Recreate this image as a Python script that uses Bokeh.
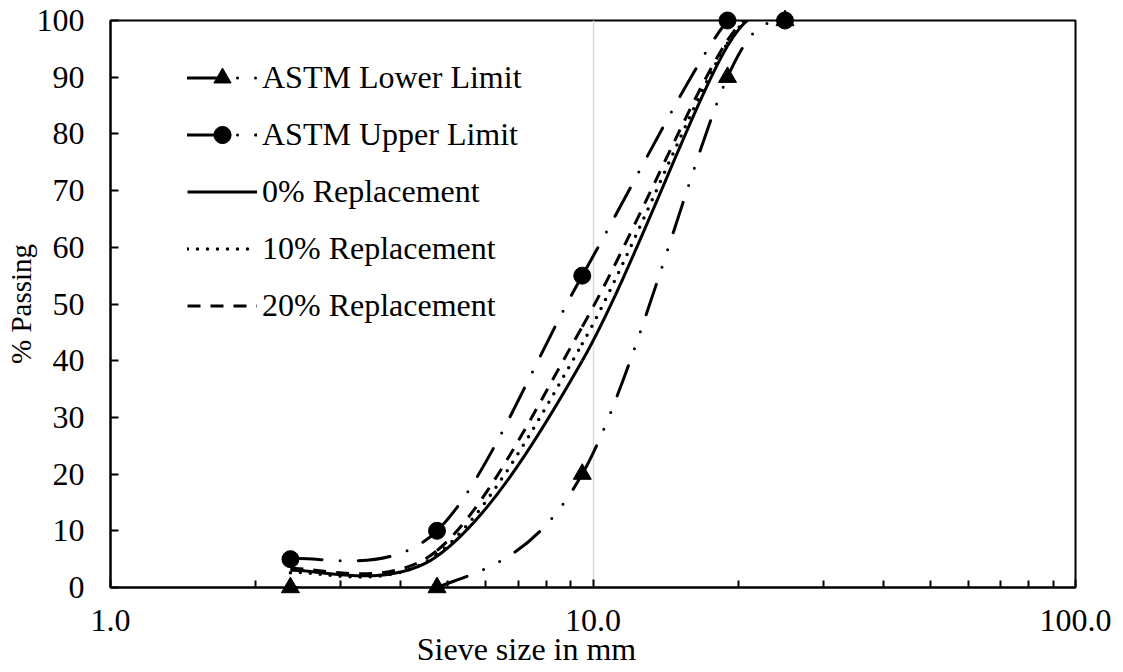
import numpy as np
from bokeh.plotting import figure
from bokeh.models import (Range1d, FixedTicker, PrintfTickFormatter, Legend,
                          LegendItem, ColumnDataSource)
from bokeh.core.properties import value
from bokeh.embed import file_html
from bokeh.resources import INLINE

# Sieve sizes (mm) and percent passing for each gradation
sieve_mm = [2.36, 4.75, 9.5, 19.0, 25.0]
astm_lower = [0, 0, 20, 90, 100]
astm_upper = [5, 10, 55, 100, 100]
replacement_0 = [3.0, 5.5, 40.0, 95.5, 100]
replacement_10 = [2.6, 5.8, 43.0, 96.0, 100]
replacement_20 = [3.3, 6.5, 46.0, 96.5, 100]

x_major_ticks = [1, 10, 100]
x_minor_ticks = [2, 3, 4, 5, 6, 7, 8, 9, 20, 30, 40, 50, 60, 70, 80, 90]
y_ticks = [0, 10, 20, 30, 40, 50, 60, 70, 80, 90, 100]

FONT = "Liberation Serif"
FONT_SIZE = "32px"


def smooth_source(xs, ys, t=1.0 / 6.0):
    """Cubic Bezier segments (Catmull-Rom style) through the points.

    Control points are built in log10(x) so the curve is smooth on the log axis.
    """
    lx = np.log10(np.asarray(xs, dtype=float))
    y = np.asarray(ys, dtype=float)
    px = np.concatenate([[lx[0]], lx, [lx[-1]]])
    py = np.concatenate([[y[0]], y, [y[-1]]])
    i = np.arange(len(lx) - 1)
    cx0 = px[i + 1] + (px[i + 2] - px[i]) * t
    cy0 = py[i + 1] + (py[i + 2] - py[i]) * t
    cx1 = px[i + 2] - (px[i + 3] - px[i + 1]) * t
    cy1 = py[i + 2] - (py[i + 3] - py[i + 1]) * t
    return ColumnDataSource(dict(
        x0=10 ** px[i + 1], y0=py[i + 1],
        x1=10 ** px[i + 2], y1=py[i + 2],
        cx0=10 ** cx0, cy0=cy0, cx1=10 ** cx1, cy1=cy1,
    ))


x_range = Range1d(1, 100)
y_range = Range1d(0, 100)

p = figure(width=1123, height=672, x_axis_type="log",
           x_range=x_range, y_range=y_range,
           output_backend="svg", toolbar_location=None,
           min_border_left=110, min_border_right=48,
           min_border_top=20, min_border_bottom=85)

p.background_fill_color = "white"
p.border_fill_color = "white"
p.outline_line_color = "black"
p.outline_line_width = 2

# axes
xa = p.xaxis[0]
xa.ticker = FixedTicker(ticks=x_major_ticks, minor_ticks=x_minor_ticks)
xa.formatter = PrintfTickFormatter(format="%.1f")
xa.major_tick_in = 8
xa.major_tick_out = 0
xa.minor_tick_in = 7
xa.minor_tick_out = 0
xa.major_label_standoff = 22

ya = p.yaxis[0]
ya.ticker = FixedTicker(ticks=y_ticks)
ya.major_tick_in = 8
ya.major_tick_out = 0
ya.minor_tick_line_color = None
ya.major_label_standoff = 26
ya.axis_label = "% Passing"
ya.axis_label_standoff = -3

for ax in (xa, ya):
    ax.axis_line_color = "black"
    ax.axis_line_width = 2
    ax.major_tick_line_color = "black"
    ax.major_tick_line_width = 2
    ax.minor_tick_line_width = 2
    ax.major_label_text_font = FONT
    ax.major_label_text_font_size = FONT_SIZE
    ax.major_label_text_color = "black"
    ax.axis_label_text_font = FONT
    ax.axis_label_text_font_style = "normal"
    ax.axis_label_text_color = "black"
ya.axis_label_text_font_size = "29px"

p.xgrid.ticker = FixedTicker(ticks=x_major_ticks)
p.xgrid.grid_line_color = "#d9d9d9"
p.xgrid.grid_line_width = 1.5
p.ygrid.visible = False

# smoothed curves
bez = dict(x0="x0", y0="y0", x1="x1", y1="y1", cx0="cx0", cy0="cy0",
           cx1="cx1", cy1="cy1", line_color="black")
r_low = p.bezier(source=smooth_source(sieve_mm, astm_lower), line_width=3,
                 line_dash="32 18 0 18 0 18", line_cap="round", **bez)
r_up = p.bezier(source=smooth_source(sieve_mm, astm_upper), line_width=3,
                line_dash="32 18 0 18", line_cap="round", **bez)
r_0 = p.bezier(source=smooth_source(sieve_mm, replacement_0), line_width=3, **bez)
r_10 = p.bezier(source=smooth_source(sieve_mm, replacement_10), line_width=3.5,
                line_dash="0 10", line_cap="round", **bez)
r_20 = p.bezier(source=smooth_source(sieve_mm, replacement_20), line_width=3,
                line_dash="13 10", **bez)

# limit markers, drawn above the frame so the ones at 100 % stay whole
m_low = p.scatter(sieve_mm, astm_lower, marker="triangle", size=18,
                  fill_color="black", line_color="black", level="overlay")
m_up = p.scatter(sieve_mm, astm_upper, marker="circle", size=17,
                 fill_color="black", line_color="black", level="overlay")

legend = Legend(items=[
    LegendItem(label="ASTM Lower Limit", renderers=[r_low, m_low]),
    LegendItem(label="ASTM Upper Limit", renderers=[r_up, m_up]),
    LegendItem(label="0% Replacement", renderers=[r_0]),
    LegendItem(label="10% Replacement", renderers=[r_10]),
    LegendItem(label="20% Replacement", renderers=[r_20]),
], location=(77, 260))
legend.glyph_width = 70
legend.glyph_height = 43
legend.label_standoff = 5
legend.spacing = 14
legend.padding = 0
legend.margin = 0
legend.background_fill_alpha = 0
legend.border_line_alpha = 0
legend.label_text_font = FONT
legend.label_text_font_size = FONT_SIZE
legend.label_text_color = "black"
p.add_layout(legend)

# x-axis title, anchored at the lower-left corner of the frame and offset in pixels
p.text(x=[x_range.start], y=[y_range.start], text=["Sieve size in mm"],
       x_offset=416, y_offset=61, text_align="center",
       text_baseline="alphabetic", text_font=value(FONT),
       text_font_size=value(FONT_SIZE), text_color="black", level="overlay")

open("out.html", "w").write(file_html(p, INLINE))
